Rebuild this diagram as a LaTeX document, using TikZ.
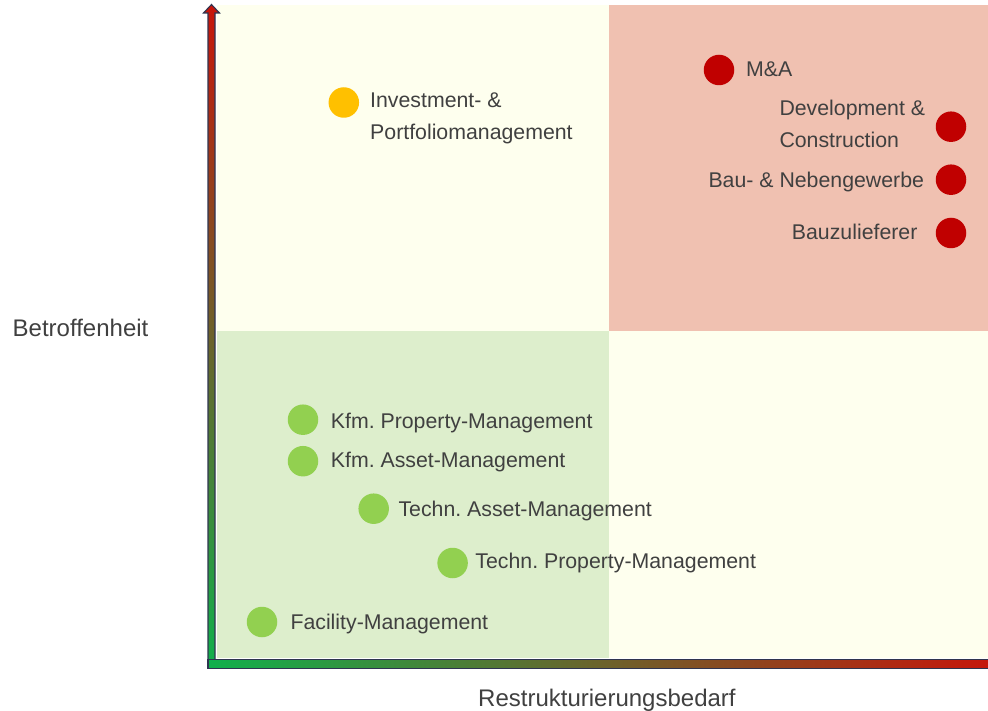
\documentclass[tikz,border=0pt]{standalone}
\usepackage{fontspec}
\setmainfont{Liberation Sans}
\frenchspacing
\definecolor{txt}{HTML}{404040}
\definecolor{cream}{HTML}{FEFFEE}
\definecolor{salmon}{HTML}{F0C1B1}
\definecolor{mint}{HTML}{DDEECC}
\definecolor{dotred}{HTML}{C00000}
\definecolor{dotyellow}{HTML}{FFC000}
\definecolor{dotgreen}{HTML}{92D050}
\definecolor{axisgreen}{HTML}{10B04C}
\definecolor{axisred}{HTML}{C8140A}
\definecolor{axisedge}{HTML}{2E3450}
\begin{document}
\begin{tikzpicture}[x=1pt,y=-1pt,
  dot/.style={circle, inner sep=0pt, minimum size=30.5pt},
  reddot/.style={dot, fill=dotred},
  yellowdot/.style={dot, fill=dotyellow},
  greendot/.style={dot, fill=dotgreen},
  lbl/.style={anchor=base west, inner sep=0pt, text=txt,
    font=\fontsize{21.3}{32}\selectfont, align=left},
  axislbl/.style={anchor=base west, inner sep=0pt, text=txt,
    font=\fontsize{24}{28}\selectfont},
  axisbar/.style={draw=axisedge, line width=1.1pt, line join=miter}]
\clip (0,0) rectangle (988,711);

% quadrants of the matrix
\fill[cream]  (217,5)     rectangle (609,331.5);
\fill[salmon] (609,5)     rectangle (988,331.5);
\fill[mint]   (217,331.5) rectangle (609,658);
\fill[cream]  (609,331.5) rectangle (988,658);

% vertical axis: block arrow, green at the bottom to red at the top
\path[axisbar, bottom color=axisgreen, top color=axisred]
  (208,668.3) -- (208,13) -- (203.5,13) -- (211.5,4.5) -- (219.5,13)
  -- (215,13) -- (215,668.3) -- cycle;
% horizontal axis: block arrow, green at the left to red at the right
\path[axisbar, left color=axisgreen, right color=axisred]
  (208,659.8) -- (1000,659.8) -- (1000,668.3) -- (208,668.3) -- cycle;

% axis titles
\node[axislbl] (ylabel) at (12.5,336.7) {Betroffenheit};
\node[axislbl] (xlabel) at (478,706) {Restrukturierungsbedarf};

% red segments (two-line labels are anchored at the baseline of their last line)
\node[reddot] (ma) at (719,70) {};
\node[lbl] (malbl) at (746,76.7) {M\&A};
\node[reddot] (dev) at (951,126.7) {};
\node[lbl] (devlbl) at (779.3,147.7) {Development \&\\Construction};
\node[reddot] (bau) at (951,179.7) {};
\node[lbl] (baulbl) at (708.3,187.3) {Bau- \& Nebengewerbe};
\node[reddot] (zul) at (951,233) {};
\node[lbl] (zullbl) at (791.7,239.5) {Bauzulieferer};

% yellow segment
\node[yellowdot] (inv) at (343.8,102.5) {};
\node[lbl] (invlbl) at (370,140) {Investment- \&\\Portfoliomanagement};

% green segments
\node[greendot] (kpm) at (303,419.7) {};
\node[lbl] (kpmlbl) at (330.7,428.3) {Kfm. Property-Management};
\node[greendot] (kam) at (303,461.2) {};
\node[lbl] (kamlbl) at (330.7,467.3) {Kfm. Asset-Management};
\node[greendot] (tam) at (373.7,508.7) {};
\node[lbl] (tamlbl) at (398.3,516.5) {Techn. Asset-Management};
\node[greendot] (tpm) at (452.6,563) {};
\node[lbl] (tpmlbl) at (475.2,568.2) {Techn. Property-Management};
\node[greendot] (fm) at (262,622) {};
\node[lbl] (fmlbl) at (290.3,629.5) {Facility-Management};
\end{tikzpicture}
\end{document}
